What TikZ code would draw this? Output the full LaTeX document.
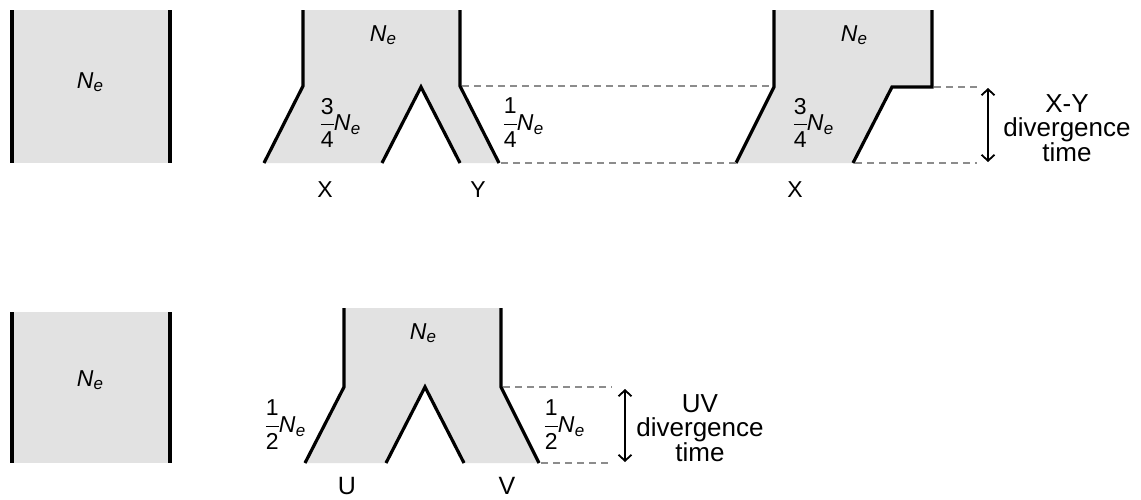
\documentclass[tikz,border=0pt]{standalone}
\usepackage{amsmath}
\usepackage{fontspec}
\setmainfont{Liberation Sans}
\usetikzlibrary{arrows.meta}
\definecolor{popfill}{RGB}{226,226,226}
\definecolor{dashgray}{RGB}{140,140,140}
\newcommand\Ne{\textit{N}\kern0.3pt\raisebox{-0.3ex}{\fontsize{17}{17}\selectfont\textit{e}}}
\newcommand\fr[2]{$\displaystyle\genfrac{}{}{0.8pt}{}{\text{#1}}{\text{#2}}$}
\tikzset{
  popline/.style={line width=3.2pt, line join=miter},
  popshape/.style={fill=popfill, draw=none},
  dashline/.style={draw=dashgray, line width=1.8pt, dash pattern=on 7pt off 5pt},
  divarrow/.style={line width=1.8pt, {Straight Barb[length=6pt,width=13pt]}-{Straight Barb[length=6pt,width=13pt]}},
  lab/.style={font=\fontsize{23}{25}\selectfont, inner sep=0pt},
  uvlab/.style={font=\fontsize{25}{27}\selectfont, inner sep=0pt},
  bigtxt/.style={font=\fontsize{26}{24}\selectfont, align=center, inner sep=0pt}
}
\begin{document}
\begin{tikzpicture}[x=1pt,y=-1pt]
\useasboundingbox (0,0) rectangle (1141,499);
% ---------- top row ----------
\fill[popshape] (12,10) rectangle (170,163);
\draw[popline] (12,10) -- (12,163);
\draw[popline] (170,10) -- (170,163);
\node[lab] (ne1) at (90,82) {\Ne};

\fill[popshape] (303,10) -- (460,10) -- (460,86) -- (499,163) -- (460,163) -- (421,87) -- (382,163) -- (264,163) -- (303,86) -- cycle;
\draw[popline] (303,10) -- (303,86) -- (264,163);
\draw[popline] (460,10) -- (460,86) -- (499,163);
\draw[popline] (382,163) -- (421,87) -- (460,163);
\node[lab] (ne2) at (383,35) {\Ne};
\node[lab] (ne3) at (340,123) {\fr{3}{4}\kern-1pt\Ne};
\node[lab] (ne4) at (523,123) {\fr{1}{4}\kern-1pt\Ne};
\node[lab] (lx1) at (325,190) {X};
\node[lab] (ly1) at (478,190) {Y};

\fill[popshape] (774,10) -- (932,10) -- (932,87) -- (892,87) -- (853,163) -- (736,163) -- (774,87) -- cycle;
\draw[popline] (774,10) -- (774,87) -- (736,163);
\draw[popline] (932,10) -- (932,87) -- (892,87) -- (853,163);
\node[lab] (ne5) at (854,35) {\Ne};
\node[lab] (ne6) at (813,123) {\fr{3}{4}\kern-1pt\Ne};
\node[lab] (lx2) at (795,190) {X};

\coordinate (a1) at (462,86);
\coordinate (a2) at (772,86);
\coordinate (b1) at (501,163);
\coordinate (b2) at (736,163);
\coordinate (c1) at (934,87);
\coordinate (c2) at (977,87);
\coordinate (d1) at (855,163);
\coordinate (d2) at (977,163);
\draw[dashline] (a1) -- (a2);
\draw[dashline] (b1) -- (b2);
\draw[dashline] (c1) -- (c2);
\draw[dashline] (d1) -- (d2);
\coordinate (xyt) at (988,88);
\coordinate (xyb) at (988,162);
\draw[divarrow] (xyt) -- (xyb);
\node[bigtxt] (xytxt) at (1067,128) {X-Y\\divergence\\time};

% ---------- bottom row ----------
\fill[popshape] (12,312) rectangle (170,463);
\draw[popline] (12,312) -- (12,463);
\draw[popline] (170,312) -- (170,463);
\node[lab] (ne7) at (90,380) {\Ne};

\fill[popshape] (344,308) -- (501,308) -- (501,387) -- (539,463) -- (464,463) -- (425,387) -- (386,463) -- (305,463) -- (344,387) -- cycle;
\draw[popline] (344,308) -- (344,387) -- (305,463);
\draw[popline] (501,308) -- (501,387) -- (539,463);
\draw[popline] (386,463) -- (425,387) -- (464,463);
\node[lab] (ne8) at (423,333) {\Ne};
\node[lab] (ne9) at (285,425) {\fr{1}{2}\kern-1pt\Ne};
\node[lab] (ne10) at (564,425) {\fr{1}{2}\kern-1pt\Ne};
\node[uvlab] (lu) at (347,486) {U};
\node[uvlab] (lv) at (507,486) {V};

\coordinate (e1) at (503,387);
\coordinate (e2) at (612,387);
\coordinate (f1) at (541,463);
\coordinate (f2) at (612,463);
\draw[dashline] (e1) -- (e2);
\draw[dashline] (f1) -- (f2);
\coordinate (uvt) at (625,389);
\coordinate (uvb) at (625,462);
\draw[divarrow] (uvt) -- (uvb);
\node[bigtxt] (uvtxt) at (700,428) {UV\\divergence\\time};
\end{tikzpicture}
\end{document}
